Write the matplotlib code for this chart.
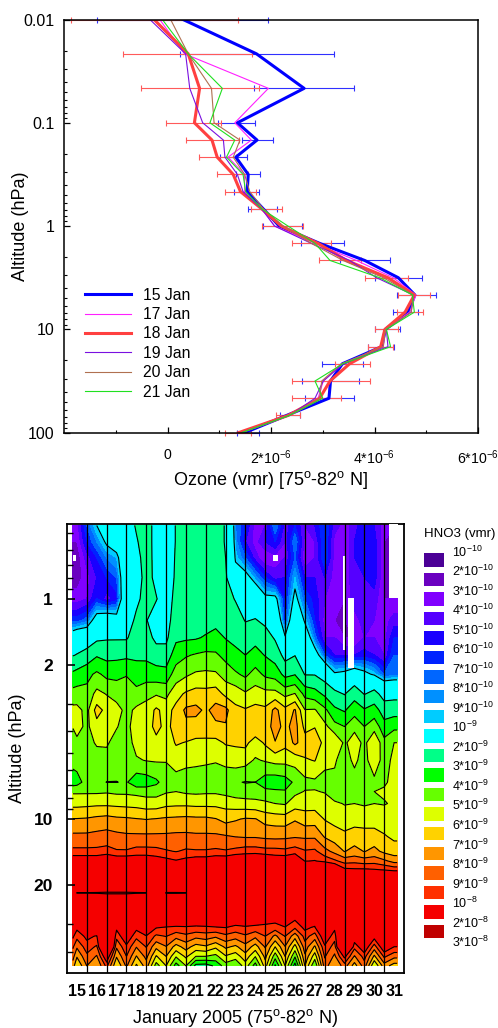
import numpy as np
import matplotlib
matplotlib.use('Agg')
import matplotlib.pyplot as plt
from matplotlib.patches import Rectangle
from matplotlib.ticker import NullFormatter

plt.rcParams['font.family'] = ['Liberation Sans', 'DejaVu Sans']
plt.rcParams['mathtext.default'] = 'regular'

W, H = 498, 1028

# ozone profiles, units of 1e-6 vmr
o3_p = [0.01, 0.0215, 0.0464, 0.1, 0.147, 0.215, 0.316, 0.464, 0.681, 1, 1.47, 2.15, 3.16, 4.64, 6.81, 10, 14.7, 21.5, 31.6, 46.4, 68.1, 100]
jan15 = [0.30, 1.72, 2.64, 1.35, 1.73, 1.32, 1.56, 1.54, 1.85, 2.16, 2.94, 3.81, 4.46, 4.78, 4.65, 4.21, 4.14, 3.38, 3.15, 3.12, 2.30, 1.49]
jan17 = [-0.15, 0.33, 1.95, 1.30, 1.62, 1.17, 1.49, 1.49, 1.82, 2.07, 2.85, 3.65, 4.36, 4.80, 4.68, 4.21, 4.17, 3.39, 3.01, 2.91, 2.33, 1.40]
jan18 = [-0.26, 0.40, 0.62, 0.52, 0.86, 0.96, 1.27, 1.41, 1.82, 2.20, 2.91, 3.46, 4.26, 4.77, 4.59, 4.20, 4.12, 3.52, 3.14, 2.94, 2.33, 1.37]
jan19 = [-0.34, 0.35, 0.43, 0.68, 1.08, 1.11, 1.35, 1.46, 1.82, 2.07, 2.78, 3.52, 4.04, 4.75, 4.71, 4.23, 4.26, 3.39, 3.01, 2.85, 2.36, 1.43]
jan20 = [0.06, 0.40, 0.85, 0.90, 1.40, 1.27, 1.49, 1.59, 1.85, 2.24, 2.78, 3.39, 4.17, 4.75, 4.71, 4.21, 4.17, 3.36, 2.98, 2.94, 2.35, 1.43]
jan21 = [-0.10, 0.40, 1.06, 0.82, 1.30, 1.14, 1.46, 1.51, 1.82, 2.33, 2.85, 3.14, 4.10, 4.73, 4.77, 4.23, 4.31, 3.39, 2.85, 3.00, 2.35, 1.43]

# error bar ends for 15 Jan and 18 Jan
blue_lo = [-1.36, 0.24, 1.67, 0.98, 1.44, 1.02, 1.32, 1.29, 1.55, 1.85, 2.58, 3.33, 4.01, 4.43, 4.36, 4.01, 3.88, 2.98, 2.59, 2.65, 2.17, 1.35]
blue_hi = [1.95, 3.22, 3.61, 1.70, 2.03, 1.54, 1.78, 1.77, 2.11, 2.59, 3.41, 4.30, 4.91, 5.19, 4.84, 4.49, 4.38, 3.78, 3.70, 3.61, 2.56, 1.76]
red_lo = [-1.87, -0.86, -0.52, -0.03, 0.36, 0.60, 0.96, 1.12, 1.62, 1.83, 2.40, 2.93, 3.81, 4.46, 4.43, 4.01, 3.88, 3.23, 2.41, 2.41, 2.09, 1.11]
red_hi = [1.37, 1.64, 1.77, 1.04, 1.38, 1.32, 1.56, 1.71, 2.22, 2.62, 3.16, 3.73, 4.65, 5.07, 4.93, 4.46, 4.36, 3.92, 3.92, 3.36, 2.56, 1.62]

# HNO3 map, units of 1e-9 vmr, one list per pressure level
days = [15.3, 15.5, 16, 16.5, 17, 17.5, 18, 18.5, 19, 19.5, 20, 20.5, 21, 21.5, 22, 22.5, 23, 23.5, 24, 24.5, 25, 25.5, 26, 26.5, 27, 27.5, 28, 28.5, 29, 29.5, 30, 30.5, 31, 31.5, 31.65]
hno3_p = [0.464, 0.55, 0.65, 0.8, 1.0, 1.25, 1.5, 1.8, 2.2, 2.7, 3.2, 3.8, 4.5, 5.4, 6.8, 7.5, 8.5, 10, 12, 14, 15.5, 17, 20, 21.6, 25, 28, 31, 34, 38, 42, 46.4]
p0464 = [.35,.35,.7,1.0,1.3,1.35,1.5,2.1,2.5,1.6,1.4,2.05,2.6,2.7,2.7,2.6,1.9,.8,.6,.35,.4,.8,.45,.6,.4,.5,.7,.45,.35,.45,.6,.5,.35,.3,.3]
p0550 = [.3,.3,.6,.8,1.05,1.2,1.5,1.9,2.5,1.6,1.4,2.05,2.6,2.7,2.7,2.6,1.9,.85,.5,.35,.5,.6,.4,.8,.35,.4,.7,.35,.3,.5,.6,.55,.3,.3,.3]
p0650 = [.22,.22,.45,.6,.8,.9,1.4,1.7,2.4,1.7,1.4,2.1,2.6,2.7,2.7,2.6,2.0,.95,.7,.45,.3,.35,.4,.7,.3,.4,.7,.35,.3,.5,.55,.55,.3,.3,.3]
p0800 = [.25,.25,.35,.5,.6,.7,1.4,1.6,2.3,1.8,1.4,2.15,2.6,2.7,2.7,2.6,2.1,1.2,1.15,.85,.6,.45,.5,.9,.5,.5,.5,.35,.3,.5,.5,.55,.3,.3,.3]
p1000 = [.35,.35,.4,.6,.45,.55,1.5,1.85,2.25,2.05,1.5,2.3,2.4,2.4,2.5,2.4,2.3,1.95,1.55,1.45,1.1,1.1,.55,1.1,.7,.55,.4,.35,.3,.45,.45,.45,.3,.3,.3]
p1250 = [.65,.65,.75,1.2,1.3,1.2,1.6,2.15,2.05,1.5,1.6,2.5,2.6,2.6,2.6,2.7,2.6,2.4,1.95,2.05,1.8,1.5,.6,1.45,.95,.6,.35,.3,.3,.35,.45,.4,.35,.45,.45]
p1500 = [1.25,1.35,1.4,1.8,1.9,1.9,1.9,2.5,2.4,1.75,1.8,2.8,2.85,2.9,3.1,3.35,2.95,2.7,2.5,2.7,2.4,1.9,1.05,1.7,1.3,.75,.4,.4,.3,.3,.4,.4,.35,.6,.6]
p1800 = [1.95,2.05,2.4,2.9,2.7,2.75,2.8,2.85,2.8,2.5,2.4,3.55,3.9,4.1,4.25,4.15,3.7,3.3,3.0,3.35,2.95,2.55,1.7,1.97,1.6,1.2,.7,.5,.5,.5,.55,.5,.4,.7,.7]
p2200 = [3.2,3.35,3.7,4.2,3.75,3.75,3.95,3.4,3.5,3.45,3.4,4.5,4.85,5.15,5.2,5.15,4.6,4.15,3.8,4.4,3.8,3.6,2.7,2.95,1.95,1.95,1.55,1.05,1.1,1.25,1.1,.95,.7,.75,.75]
p2700 = [4.4,4.45,4.35,5.3,4.95,4.6,4.5,4.4,4.8,4.9,4.75,5.65,6.15,6.4,6.35,6.5,5.75,5.65,5.15,5.5,5.35,5.35,4.75,5.05,3.7,3.4,2.8,2.25,1.95,2.6,1.95,2.3,1.65,1.7,1.7]
p3200 = [5.3,5.3,4.7,6.4,5.7,5.4,4.7,5.2,5.3,6.2,5.6,6.3,7.2,7.3,6.8,7.4,7.3,6.2,6.1,6.3,6.2,7.3,6.3,7.1,5.05,5.1,4.25,3.2,2.9,3.6,3.1,3.45,2.5,2.55,2.55]
p3800 = [5.05,5.3,4.8,5.6,5.5,5.05,4.7,5.5,5.5,6.3,5.7,6.4,6.7,6.5,6.7,6.75,6.9,6.4,6.45,6.8,6.5,7.4,6.7,7.4,5.7,5.95,5.3,4.35,4.0,4.7,4.0,4.6,3.4,3.75,3.75]
p4500 = [4.6,4.8,4.7,5.1,5.1,4.7,4.6,5.3,5.4,5.7,5.4,6.1,5.95,5.8,5.7,5.7,6.1,6.15,6.25,5.5,6.15,6.95,6.3,7.2,6.5,6.6,5.7,6.0,4.8,5.6,4.7,6.0,4.3,5.0,5.0]
p5400 = [4.3,4.4,4.5,4.6,4.7,4.4,4.4,4.9,5.05,5.1,5.05,5.4,5.2,5.15,5.1,5.05,5.2,5.45,5.35,4.9,5.1,5.3,5.3,5.35,5.9,6.05,5.15,5.1,4.6,5.2,4.6,5.75,4.5,5.3,5.3]
p6800 = [3.5,3.6,4.4,4.3,3.98,3.98,4.1,3.3,3.4,3.8,4.5,4.6,4.6,4.6,4.6,4.6,4.5,4.1,3.95,4.0,3.4,3.3,3.5,4.2,4.7,4.8,4.8,4.8,4.6,4.6,5.0,4.7,4.9,5.2,5.2]
p7500 = [4.85,4.85,4.85,4.85,4.9,4.8,4.8,4.7,4.6,4.6,4.9,5.0,4.85,4.8,4.85,4.85,4.7,4.5,4.45,4.4,4.3,4.2,4.1,4.75,5.05,5.05,4.95,4.45,4.1,4.2,4.3,5.0,5.1,5.3,5.3]
p8500 = [5.7,5.7,5.75,5.8,5.8,5.75,5.7,5.65,5.5,5.5,5.75,5.8,5.8,5.75,5.75,5.75,5.65,5.5,5.4,5.35,5.2,5.0,4.9,5.55,5.6,5.6,5.4,5.15,4.95,5.0,4.9,5.0,4.95,5.1,5.1]
p10 = [7.05,7.05,7.1,7.25,7.35,7.2,7.15,7.05,6.97,7.05,7.15,7.2,7.25,7.2,7.2,7.05,6.7,6.9,7.1,7.05,6.65,6.55,6.5,6.9,6.5,6.55,5.95,5.7,5.5,5.65,5.6,5.6,5.5,5.35,5.35]
p12 = [8.25,8.25,8.25,8.35,8.45,8.3,8.2,8.2,8.2,8.2,8.2,8.25,8.25,8.2,8.2,8.2,8.1,7.97,7.9,7.9,7.8,7.75,7.8,7.9,7.85,7.85,6.9,6.5,6.25,6.45,6.4,6.4,6.1,5.8,5.8]
p14 = [9.25,9.25,9.25,9.25,9.35,9.1,9.1,9.35,9.35,9.3,9.1,8.95,9.15,9.1,9.1,9.2,9.1,9.3,9.5,9.5,9.35,9.35,9.25,9.5,9.1,9.2,8.35,7.7,6.95,7.35,6.95,7.3,6.75,6.5,6.5]
p155 = [11,11,11,11,11.5,11,11,11,11,10.7,10.4,10.1,10.4,10.7,10.7,11,11,11.5,11.5,11.8,11.5,11,11,11.5,9.95,10.05,9.7,9.2,8.6,8.7,8.5,8.6,8.2,7.65,7.65]
p17 = [15,15,15,15,15,15,15,15,15,15,15,15,15,15,15,15,15,15,15,15,15,15,15,15,14,14,13,12,10.3,10.2,10.2,10.1,9.95,9.7,9.7]
p20 = [15,15,15,15,15,15,15,15,15,15,15,15,15,15,15,15,15,15,15,15,15,15,15,15,15,15,15,15,15,15,15,15,15,15,15]
p216 = [15,20.1,20.1,20.2,20.4,20.4,20.4,20.2,20.1,15,20.2,20.2,20.1,15,15,15,15,15,15,15,15,15,15,15,15,15,15,15,15,15,15,15,15,15,15]
p25 = [15,15,15,15,15,15,15,15,15,15,15,15,15,15,15,15,15,15,15,15,15,15,15,15,15,15,15,15,15,15,15,15,15,15,15]
p28 = [15,15,15,15,15,15,15,15,15,15,11.4,11.3,11.3,10.9,11.3,11.4,11,11.15,11.3,11.15,10.55,10.5,11.4,10.3,15,11.3,15,15,15,15,15,15,15,15,15]
p31 = [15,10.3,15,12,15,10.3,15,10.35,12,10.1,9.95,9.85,9.9,9.85,9.85,9.95,10.05,9.7,9.85,9.7,9.75,9.6,9.95,9.2,10.3,9.85,15,10.3,15,15,15,15,15,15,15]
p34 = [10.2,9.33,10.3,9.9,15,9.33,11,9.3,9.9,8.8,9.05,8.35,8.75,8.3,8.5,8.2,8.75,8.4,8.85,8.25,9.0,7.75,9.05,7.4,9.4,8.5,11,9.4,15,11,15,10.5,15,15,15]
p38 = [9.15,8.15,9.5,8.85,15,8.15,9.75,8.05,9.05,7.25,7.95,6.6,7.4,6.6,6.85,6.2,7.2,6.8,7.65,6.55,8.1,6.0,7.95,5.6,8.55,6.85,9.8,8.55,15,9.3,11,8.5,11,10,10]
p42 = [8.35,7.1,8.75,7.9,11,7.1,9.0,6.95,8.3,5.9,7.0,5.1,6.2,5.0,5.0,4.7,5.9,5.45,6.6,5.05,7.3,4.4,7.0,4.1,7.8,5.45,9.1,7.8,10.3,7.9,9.4,6.8,9.2,8.3,8.3]
p46 = [7.5,6.0,8.0,7.0,9.3,6.0,8.2,5.8,7.5,4.5,6.0,3.5,5.0,2.6,2.5,3.2,4.5,4.0,5.5,3.5,6.5,2.8,6.0,2.5,7.0,4.0,8.5,7.0,8.5,6.5,8.5,5.0,7.5,6.5,6.5]
hno3 = np.array([p0464, p0550, p0650, p0800, p1000, p1250, p1500, p1800, p2200, p2700, p3200, p3800, p4500, p5400, p6800, p7500, p8500,
                 p10, p12, p14, p155, p17, p20, p216, p25, p28, p31, p34, p38, p42, p46])

# holes with no data: day from, day to, p from, p to
no_data = [(31.22, 31.7, 0.45, 0.99), (29.2, 29.5, 0.99, 2.05), (28.93, 29.03, 0.64, 1.7), (15.3, 15.45, 0.63, 0.67), (25.4, 25.65, 0.63, 0.67)]

hno3_levels = [.1, .2, .3, .4, .5, .6, .7, .8, .9, 1, 2, 3, 4, 5, 6, 7, 8, 9, 10, 20, 30]
hno3_colors = ['#4b0096', '#6a00c0', '#8000ff', '#5500ff', '#1900ff', '#0022ff', '#0066ff', '#0090ff', '#00ccff', '#00ffff',
               '#00ff88', '#00ff00', '#66ff00', '#ddff00', '#ffd200', '#ff9600', '#ff6000', '#ff3000', '#f50000', '#c00000']
hno3_names = ['10$^{-10}$', '2*10$^{-10}$', '3*10$^{-10}$', '4*10$^{-10}$', '5*10$^{-10}$', '6*10$^{-10}$', '7*10$^{-10}$', '8*10$^{-10}$', '9*10$^{-10}$',
              '10$^{-9}$', '2*10$^{-9}$', '3*10$^{-9}$', '4*10$^{-9}$', '5*10$^{-9}$', '6*10$^{-9}$', '7*10$^{-9}$', '8*10$^{-9}$', '9*10$^{-9}$',
              '10$^{-8}$', '2*10$^{-8}$', '3*10$^{-8}$']


def px_axes(left, top, right, bottom):
    return fig.add_axes([left/W, 1-bottom/H, (right-left)/W, (bottom-top)/H])


fig = plt.figure(figsize=(W/100, H/100), dpi=100)

# ---- ozone
ax = px_axes(64, 19.5, 478, 432.7)
o3_p = np.array(o3_p)
for lo, hi, col in [(blue_lo, blue_hi, '#3030ff'), (red_lo, red_hi, '#ff5a5a')]:
    lo = np.array(lo)
    hi = np.array(hi)
    ax.errorbar((lo+hi)/2, o3_p, xerr=(hi-lo)/2, fmt='none', ecolor=col, elinewidth=0.8, capsize=2, capthick=0.8, clip_on=False)

ax.plot(jan15, o3_p, color='#0000ff', lw=2.2, label='15 Jan')
ax.plot(jan17, o3_p, color='#ff20ff', lw=0.8, label='17 Jan')
ax.plot(jan18, o3_p, color='#ff4040', lw=2.2, label='18 Jan')
ax.plot(jan19, o3_p, color='#7a10e0', lw=0.8, label='19 Jan')
ax.plot(jan20, o3_p, color='#b07050', lw=0.8, label='20 Jan')
ax.plot(jan21, o3_p, color='#20e020', lw=0.8, label='21 Jan')

ax.set_yscale('log')
ax.set_ylim(100, 0.01)
ax.set_xlim(-2, 6)
ax.set_xticks([0, 2, 4, 6])
ax.set_xticklabels(['0', '2*10$^{-6}$', '4*10$^{-6}$', '6*10$^{-6}$'])
ax.set_xticks([-1, 1, 3, 5], minor=True)
ax.set_yticks([0.01, 0.1, 1, 10, 100])
ax.set_yticklabels(['0.01', '0.1', '1', '10', '100'])
ax.yaxis.set_minor_formatter(NullFormatter())
ax.tick_params(which='major', direction='in', length=4, width=0.9, labelsize=11.5)
ax.tick_params(which='minor', direction='in', length=2, width=0.8)
ax.tick_params(axis='x', which='major', pad=11, labelsize=10.2)
ax.tick_params(axis='y', which='major', pad=7)
for s in ax.spines.values():
    s.set_linewidth(1.1)
ax.set_xlabel('Ozone (vmr) [75$^{o}$-82$^{o}$ N]', fontsize=13, va='center')
ax.xaxis.set_label_coords(0.5, -0.1145)
ax.set_ylabel('Altitude (hPa)', fontsize=13, va='center')
ax.yaxis.set_label_coords(-0.106, 0.5)
ax.legend(loc='lower left', bbox_to_anchor=(0.05, 0.08), frameon=False, fontsize=11.3, handlelength=2.93,
          labelspacing=0.28, handletextpad=0.76, borderpad=0, borderaxespad=0)

# ---- HNO3
ax2 = px_axes(67, 524, 404, 973)
ax2.contourf(days, hno3_p, hno3, levels=hno3_levels, colors=hno3_colors)
ax2.contour(days, hno3_p, hno3, levels=hno3_levels[9:20], colors='k', linewidths=0.8)
for d0, d1, p0, p1 in no_data:
    ax2.add_patch(Rectangle((d0, p0), d1-d0, p1-p0, facecolor='white', edgecolor='none', zorder=3))
day_lines = np.arange(16, 32)
for d in day_lines:
    ax2.axvline(d, color='k', lw=0.9, zorder=4)

ax2.set_yscale('log')
ax2.set_ylim(50, 0.457)
ax2.set_xlim(15, 32)
ax2.set_xticks(day_lines)
ax2.set_xticklabels([])
ax2.set_xticks(np.arange(15, 32)+0.5, minor=True)
ax2.set_xticklabels([str(d) for d in range(15, 32)], minor=True, fontweight='bold', fontsize=11.5)
ax2.tick_params(axis='x', which='major', length=0)
ax2.tick_params(axis='x', which='minor', length=0, pad=8)
ax2.set_yticks([1, 2, 10, 20])
ax2.set_yticklabels(['1', '2', '10', '20'], fontweight='bold', fontsize=12.5)
ax2.set_yticks([0.5, 0.6, 0.7, 0.8, 0.9, 3, 4, 5, 6, 7, 8, 9, 30, 40], minor=True)
ax2.yaxis.set_minor_formatter(NullFormatter())
ax2.tick_params(axis='y', which='major', direction='in', length=6, width=1.2, pad=10)
ax2.tick_params(axis='y', which='minor', direction='in', length=4, width=1.0)
for s in ax2.spines.values():
    s.set_linewidth(1.3)
ax2.set_xlabel('January 2005 (75$^{o}$-82$^{o}$ N)', fontsize=13, va='center')
ax2.xaxis.set_label_coords(0.5, -0.1)
ax2.set_ylabel('Altitude (hPa)', fontsize=13, va='center')
ax2.yaxis.set_label_coords(-0.148, 0.5)

# ---- colour key, drawn in pixel coordinates
key = fig.add_axes([0, 0, 1, 1])
key.set_xlim(0, W)
key.set_ylim(H, 0)
key.axis('off')
key.patch.set_alpha(0)
key.text(424, 534, 'HNO3 (vmr)', fontsize=9.5, va='center', ha='left')
for i, col in enumerate(hno3_colors):
    key.add_patch(Rectangle((423.5, 553+i*19.57), 20, 13.5, facecolor=col, edgecolor='none'))
for i, name in enumerate(hno3_names):
    key.text(452.5, 552+i*19.53, name, fontsize=9, va='center', ha='left')

fig.savefig('out.png', dpi=100)
